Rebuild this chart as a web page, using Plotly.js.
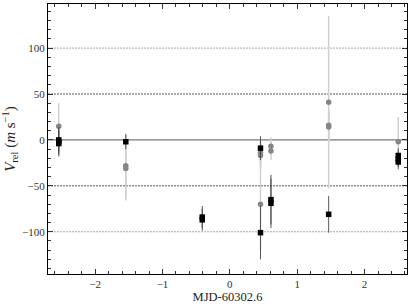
<!DOCTYPE html>
<html>
<head>
<meta charset="utf-8">
<script src="https://cdn.plot.ly/plotly-3.0.1.min.js"></script>
<style>html,body{margin:0;padding:0;background:#fff;}#chart{width:416px;height:306px;}</style>
</head>
<body>
<div id="chart"></div>
<script>
// Black squares series
const blackTimes = [-2.54, -2.54, -2.54, -1.545, -0.41, -0.41, 0.455, 0.455, 0.61, 0.61, 1.467, 2.50, 2.50, 2.50];
const blackValues = [0, -2, -4, -2, -84, -87, -9, -101, -65, -69, -81, -17, -21, -24];
const blackErrors = [14, 14, 14, 8, 12, 12, 13, 29, 27, 27, 20, 8, 8, 8];
// Gray circles series
const grayTimes = [-2.54, -1.545, -1.545, 0.455, 0.455, 0.455, 0.61, 0.61, 1.467, 1.467, 1.467, 2.50];
const grayValues = [15, -28, -31, -14, -17, -70, -7, -12, 41, 14, 16, -2];
const grayErrors = [25, 35, 35, 15, 15, 50, 10, 10, 94, 17, 17, 27];
// Reference levels
const refLevels = [-100, -50, 0, 50, 100];

const serif = "Liberation Serif, DejaVu Serif, serif";

const traces = [
  {
    x: grayTimes, y: grayValues, type: 'scatter', mode: 'markers',
    marker: {symbol: 'circle', size: 5.5, color: '#858585'},
    error_y: {type: 'data', array: grayErrors, visible: true, color: '#d0d0d0', thickness: 1.5, width: 0},
    hoverinfo: 'skip', showlegend: false
  },
  {
    x: blackTimes, y: blackValues, type: 'scatter', mode: 'markers',
    marker: {symbol: 'square', size: 5.5, color: '#000'},
    error_y: {type: 'data', array: blackErrors, visible: true, color: '#444', thickness: 0.9, width: 0},
    hoverinfo: 'skip', showlegend: false
  }
];

const shapes = refLevels.map(v => ({
  type: 'line', xref: 'paper', x0: 0, x1: 1, yref: 'y', y0: v, y1: v, layer: 'below',
  line: v === 0 ? {color: '#777', width: 1.2} :
        (Math.abs(v) === 50 ? {color: '#555', width: 1, dash: '2px,1px'} : {color: '#aaa', width: 1, dash: '2px,1px'})
}));

const axisCommon = {
  showline: true, linecolor: '#000', linewidth: 1, mirror: 'allticks',
  ticks: 'inside', ticklen: 5, tickwidth: 1, tickcolor: '#333',
  showgrid: false, zeroline: false,
  tickfont: {family: serif, size: 11, color: '#333'}
};

const layout = {
  width: 416, height: 306,
  margin: {l: 48, r: 9, t: 4, b: 32},
  paper_bgcolor: '#fff', plot_bgcolor: '#fff',
  font: {family: serif, color: '#222'},
  xaxis: Object.assign({}, axisCommon, {
    range: [-2.70, 2.63], dtick: 1, tick0: 0,
    minor: {dtick: 0.2, ticks: 'inside', ticklen: 3, tickcolor: '#333', showgrid: false},
    title: {text: 'MJD-60302.6', font: {family: serif, size: 12.5, color: '#222'}, standoff: 3}
  }),
  yaxis: Object.assign({}, axisCommon, {
    range: [-146, 148], dtick: 50, tick0: 0,
    minor: {dtick: 10, ticks: 'inside', ticklen: 3, tickcolor: '#333', showgrid: false},
    title: {text: '<i>V</i><sub>rel</sub> (<i>m</i> s<sup>−1</sup>)', font: {family: serif, size: 15, color: '#222'}, standoff: 4}
  }),
  shapes: shapes
};

Plotly.newPlot('chart', traces, layout, {staticPlot: true, displayModeBar: false});
</script>
</body>
</html>
